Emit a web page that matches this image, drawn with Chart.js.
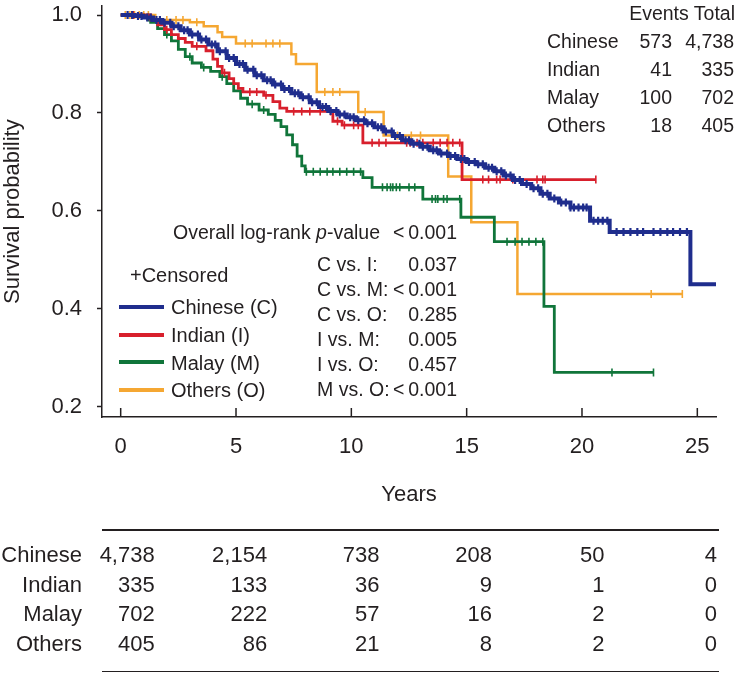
<!DOCTYPE html>
<html><head><meta charset="utf-8">
<script src="https://cdn.jsdelivr.net/npm/chart.js@4.4.1/dist/chart.umd.min.js"></script>
<style>
html,body{margin:0;padding:0;background:#fff;}
#wrap{position:relative;width:736px;height:673px;overflow:hidden;font-family:"Liberation Sans",Arial,Helvetica,sans-serif;color:#231f20;}
#c{position:absolute;left:0;top:0;}
.t{position:absolute;white-space:nowrap;line-height:1;}
.rule{position:absolute;height:1.5px;background:#231f20;}
.sw{position:absolute;height:4px;}
</style></head><body>
<div id="wrap"><canvas id="c" width="736" height="673"></canvas></div>
<script>
// ---------------- data ----------------
const groups = ['Chinese', 'Indian', 'Malay', 'Others'];
const legendLabels = ['Chinese (C)', 'Indian (I)', 'Malay (M)', 'Others (O)'];
const eventCounts = ['573', '41', '100', '18'];
const totalCounts = ['4,738', '335', '702', '405'];
const xTicks = [0, 5, 10, 15, 20, 25];
const yTicks = [0.2, 0.4, 0.6, 0.8, 1.0];

const riskChinese = ['4,738', '2,154', '738', '208', '50', '4'];
const riskIndian  = ['335', '133', '36', '9', '1', '0'];
const riskMalay   = ['702', '222', '57', '16', '2', '0'];
const riskOthers  = ['405', '86', '21', '8', '2', '0'];

const pairLabels = ['C vs. I:', 'C vs. M:', 'C vs. O:', 'I vs. M:', 'I vs. O:', 'M vs. O:'];
const pairPValues = ['0.037', '<\u20090.001', '0.285', '0.005', '0.457', '<\u20090.001'];
const overallP = '<\u20090.001';

// Kaplan-Meier step curves: time (years) and survival after that time
const chineseT = [0, 0.6, 1.0, 1.4, 1.8, 2.2, 2.6, 3.0, 3.4, 3.8, 4.2, 4.6, 5.0, 5.4, 5.8, 6.2, 6.6, 7.0, 7.4, 7.8, 8.2, 8.6, 9.0, 9.4, 9.8, 10.2, 10.6, 11.0, 11.4, 11.8, 12.2, 12.6, 13.0, 13.4, 13.8, 14.2, 14.6, 15.0, 15.4, 15.8, 16.2, 16.6, 17.0, 17.4, 17.8, 18.2, 18.6, 19.0, 19.5, 20.35, 21.2, 24.7, 25.85];
const chineseS = [1.0, 0.998, 0.995, 0.99, 0.984, 0.977, 0.969, 0.96, 0.95, 0.94, 0.926, 0.912, 0.90, 0.888, 0.877, 0.867, 0.858, 0.849, 0.840, 0.832, 0.822, 0.812, 0.804, 0.797, 0.791, 0.785, 0.779, 0.771, 0.762, 0.753, 0.744, 0.737, 0.731, 0.724, 0.717, 0.712, 0.706, 0.70, 0.695, 0.688, 0.681, 0.672, 0.663, 0.655, 0.646, 0.635, 0.625, 0.617, 0.607, 0.58, 0.557, 0.45, 0.45];
const chineseCens = [0.3, 0.5, 0.75, 0.9, 1.15, 1.3, 1.55, 1.7, 1.9, 2.15, 2.3, 2.5, 2.75, 2.9, 3.1, 3.35, 3.5, 3.7, 3.95, 4.1, 4.3, 4.55, 4.7, 4.9, 5.15, 5.3, 5.5, 5.75, 5.9, 6.1, 6.35, 6.5, 6.7, 6.95, 7.1, 7.3, 7.55, 7.7, 7.9, 8.15, 8.3, 8.5, 8.75, 8.9, 9.1, 9.35, 9.5, 9.7, 9.95, 10.1, 10.3, 10.55, 10.7, 10.9, 11.15, 11.3, 11.5, 11.75, 11.9, 12.1, 12.35, 12.5, 12.7, 12.95, 13.1, 13.3, 13.55, 13.7, 13.9, 14.15, 14.3, 14.5, 14.75, 14.9, 15.1, 15.35, 15.5, 15.7, 15.95, 16.1, 16.3, 16.5, 16.7, 16.9, 17.1, 17.3, 17.6, 17.9, 18.1, 18.3, 18.5, 18.8, 19.1, 19.3, 19.5, 19.65, 19.85, 20.05, 20.2, 20.5, 20.7, 20.9, 21.1, 21.5, 21.8, 22.1, 22.4, 22.65, 23.1, 23.4, 23.7, 23.95, 24.25, 24.55];

const indianT = [0, 1.3, 1.6, 1.9, 2.2, 2.5, 2.8, 3.1, 3.7, 4.0, 4.2, 4.4, 4.7, 4.9, 5.1, 5.3, 6.2, 6.6, 6.9, 7.2, 9.2, 9.6, 10.5, 14.8, 20.6];
const indianS = [1.0, 0.99, 0.98, 0.97, 0.96, 0.952, 0.944, 0.936, 0.927, 0.91, 0.895, 0.882, 0.87, 0.86, 0.85, 0.843, 0.836, 0.823, 0.81, 0.803, 0.783, 0.775, 0.739, 0.664, 0.664];
const indianCens = [0.55, 2.0, 3.3, 4.5, 5.6, 5.9, 6.3, 7.5, 7.85, 8.2, 8.65, 9.1, 9.4, 9.7, 10.1, 10.3, 10.9, 11.2, 11.5, 12.4, 12.55, 12.85, 13.1, 13.55, 13.85, 14.15, 14.4, 14.7, 15.7, 15.95, 16.3, 16.45, 17.0, 18.05, 18.3, 18.4, 20.6];

const malayT = [0, 1.0, 1.3, 1.6, 1.9, 2.2, 2.5, 2.8, 3.1, 3.5, 3.9, 4.3, 4.6, 4.9, 5.2, 5.5, 6.0, 6.4, 6.7, 6.95, 7.2, 7.45, 7.65, 7.85, 8.0, 10.5, 10.9, 13.1, 14.75, 16.2, 18.35, 18.8, 23.1];
const malayS = [1.0, 0.995, 0.985, 0.972, 0.96, 0.947, 0.93, 0.915, 0.902, 0.893, 0.885, 0.874, 0.86, 0.845, 0.83, 0.818, 0.806, 0.797, 0.785, 0.772, 0.755, 0.735, 0.712, 0.692, 0.68, 0.668, 0.648, 0.624, 0.587, 0.537, 0.405, 0.27, 0.27];
const malayCens = [0.5, 1.2, 2.0, 3.0, 3.6, 4.4, 5.7, 6.2, 8.05, 8.35, 8.65, 8.95, 9.2, 9.5, 9.8, 10.1, 10.4, 11.35, 11.55, 11.7, 11.8, 11.95, 12.1, 12.5, 12.75, 13.5, 13.65, 13.75, 14.0, 14.15, 14.7, 16.75, 17.1, 17.4, 17.7, 18.0, 18.3, 21.3, 23.1];

const othersT = [0, 1.5, 3.0, 3.6, 4.2, 4.4, 5.0, 7.4, 7.6, 8.5, 10.3, 11.4, 14.2, 15.2, 17.2, 24.35];
const othersS = [1.0, 0.99, 0.985, 0.977, 0.965, 0.955, 0.942, 0.92, 0.90, 0.843, 0.802, 0.754, 0.67, 0.577, 0.43, 0.43];
const othersCens = [0.2, 0.4, 0.6, 0.8, 1.0, 1.2, 2.0, 2.4, 2.7, 3.3, 5.4, 5.7, 6.3, 6.6, 6.9, 8.85, 9.2, 9.5, 10.6, 12.0, 12.6, 13.0, 23.0, 24.35];

// ---------------- styling ----------------
const FONT = "'Liberation Sans', Arial, Helvetica, sans-serif";
const INK = '#231f20';
const colors = {Chinese: '#1f2d8d', Indian: '#d81f2c', Malay: '#10753a', Others: '#f5a732'};
Chart.defaults.font.family = FONT;
Chart.defaults.color = INK;

function stepAt(T, S, t) {
  let v = S[0];
  for (let i = 0; i < T.length; i++) { if (T[i] <= t) v = S[i]; else break; }
  return v;
}
function curve(T, S, color, w) {
  return {type: 'line', data: T.map((t, i) => ({x: t, y: S[i]})), borderColor: color, borderWidth: w,
          stepped: true, pointRadius: 0, fill: false, tension: 0};
}
function censored(T, S, C, color, w) {
  return {type: 'line', showLine: false, data: C.map(t => ({x: t, y: stepAt(T, S, t)})),
          pointStyle: 'line', rotation: 90, pointRadius: 4, borderColor: color, backgroundColor: color,
          pointBorderWidth: w, borderWidth: w};
}

const datasets = [
  censored(chineseT, chineseS, chineseCens, colors.Chinese, 2.2),
  curve(chineseT, chineseS, colors.Chinese, 4),
  censored(indianT, indianS, indianCens, colors.Indian, 1.6),
  curve(indianT, indianS, colors.Indian, 2.8),
  censored(malayT, malayS, malayCens, colors.Malay, 1.6),
  curve(malayT, malayS, colors.Malay, 2.8),
  censored(othersT, othersS, othersCens, colors.Others, 1.6),
  curve(othersT, othersS, colors.Others, 2.5)
];

const innerTicks = {
  id: 'innerTicks',
  afterDraw(chart) {
    const {ctx, chartArea, scales: {x}} = chart;
    ctx.save();
    ctx.strokeStyle = INK; ctx.lineWidth = 1.5;
    xTicks.forEach(v => {
      const p = x.getPixelForValue(v);
      ctx.beginPath(); ctx.moveTo(p, chartArea.bottom); ctx.lineTo(p, chartArea.bottom - 9); ctx.stroke();
    });
    ctx.restore();
  }
};

const chart = new Chart(document.getElementById('c'), {
  type: 'line',
  data: {datasets},
  plugins: [innerTicks],
  options: {
    responsive: false, animation: false, events: [],
    layout: {padding: {top: 2, right: 20, left: 0, bottom: 0}},
    plugins: {legend: {display: false}, tooltip: {enabled: false}},
    scales: {
      x: {
        type: 'linear', min: -0.81, max: 25.81,
        afterBuildTicks: s => { s.ticks = xTicks.map(v => ({value: v})); },
        afterFit: s => { s.height = 256; s.paddingLeft = 0; s.paddingRight = 0; },
        grid: {display: false, drawTicks: false},
        border: {display: true, color: INK, width: 1.5},
        ticks: {color: INK, font: {size: 22}, padding: 17, maxRotation: 0, autoSkip: false}
      },
      y: {
        type: 'linear', min: 0.179, max: 1.018,
        afterBuildTicks: s => { s.ticks = yTicks.map(v => ({value: v})); },
        afterFit: s => { s.width = 102; s.paddingTop = 0; s.paddingBottom = 0; },
        grid: {display: true, drawOnChartArea: false, drawTicks: true, tickLength: 5, tickColor: INK, tickWidth: 1.5},
        border: {display: true, color: INK, width: 1.5},
        ticks: {color: INK, font: {size: 22}, padding: 15, callback: v => Number(v).toFixed(1)},
        title: {display: true, text: 'Survival probability', color: INK, font: {size: 22}, padding: 0}
      }
    }
  }
});

// ---------------- text overlays ----------------
const wrap = document.getElementById('wrap');
function txt(html, x, yc, fs, align, extra) {
  const d = document.createElement('div');
  d.className = 't';
  d.innerHTML = html;
  d.style.fontSize = fs + 'px';
  d.style.top = (yc - fs * 0.49) + 'px';
  if (align === 'right') d.style.right = (736 - x) + 'px';
  else if (align === 'center') { d.style.left = x + 'px'; d.style.transform = 'translateX(-50%)'; }
  else d.style.left = x + 'px';
  if (extra) Object.assign(d.style, extra);
  wrap.appendChild(d);
  return d;
}
function rule(x1, x2, y) {
  const d = document.createElement('div');
  d.className = 'rule';
  d.style.left = x1 + 'px'; d.style.width = (x2 - x1) + 'px'; d.style.top = (y - 0.75) + 'px';
  wrap.appendChild(d);
}

// events / total table (top right)
txt('Events Total', 735, 14, 19.5, 'right');
groups.forEach((g, i) => {
  const yc = 42 + i * 28;
  txt(g, 547, yc, 19.5, 'left');
  txt(eventCounts[i], 672, yc, 19.5, 'right');
  txt(totalCounts[i], 734, yc, 19.5, 'right');
});

// log-rank tests
txt('Overall log-rank <i>p</i>-value', 173, 233, 19.5, 'left');
txt(overallP, 457, 233, 19.5, 'right');
pairLabels.forEach((l, i) => {
  const yc = 265 + i * 25;
  txt(l, 317, yc, 19.5, 'left');
  txt(pairPValues[i], 457, yc, 19.5, 'right');
});

// legend
txt('+Censored', 130, 275, 20, 'left');
groups.forEach((g, i) => {
  const yc = 307 + i * 27.7;
  const s = document.createElement('div');
  s.className = 'sw';
  s.style.left = '119px'; s.style.width = '45px'; s.style.top = (yc - 2) + 'px';
  s.style.background = colors[g];
  wrap.appendChild(s);
  txt(legendLabels[i], 171, yc, 20, 'left');
});

// x-axis title and number-at-risk table, aligned to the chart's x scale
const xs = chart.scales.x, area = chart.chartArea;
txt('Years', (area.left + area.right) / 2, 494, 22, 'center');
const riskRows = [riskChinese, riskIndian, riskMalay, riskOthers];
const p0 = xs.getPixelForValue(xTicks[0]);
const step = (xs.getPixelForValue(xTicks[1]) - p0) * 0.975;
rule(area.left, area.right + 3, 530);
riskRows.forEach((row, r) => {
  const yc = 555 + r * 29.5;
  txt(groups[r], 82, yc, 22, 'right');
  row.forEach((v, i) => txt(v, p0 + 34 + i * step, yc, 22, 'right'));
});
rule(area.left, area.right + 3, 671.5);
</script>
</body></html>
